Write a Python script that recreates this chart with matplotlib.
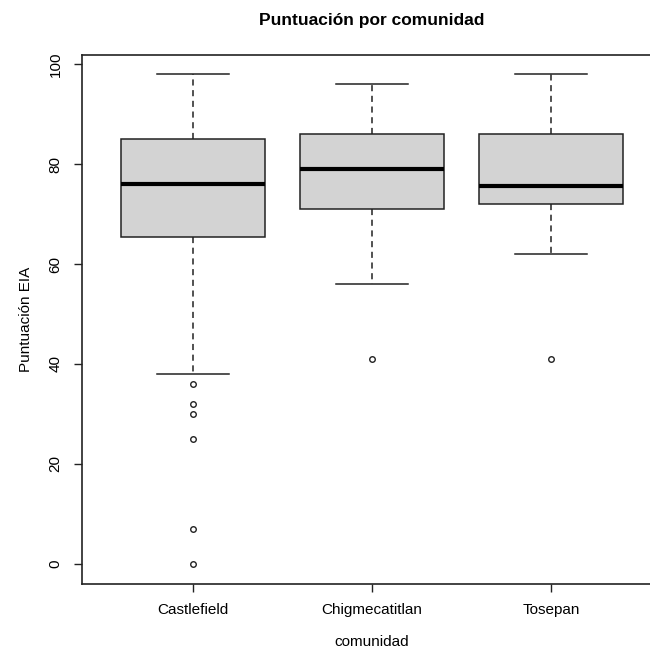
import matplotlib
matplotlib.use("Agg")
import matplotlib.pyplot as plt

categories = ["Castlefield", "Chigmecatitlan", "Tosepan"]
whisker_low = [38, 56, 62]
q1 = [65.5, 71, 72]
median = [76, 79, 75.6]
q3 = [85, 86, 86]
whisker_high = [98, 96, 98]
outliers = [[36, 32, 30, 25, 7, 0], [41], [41]]
yticks = [0, 20, 40, 60, 80, 100]

plt.rcParams['font.family'] = ['Liberation Sans', 'DejaVu Sans']

fig = plt.figure(figsize=(6.5, 6.49), dpi=100)
W, H = 650, 649
left, right, top, bottom = 82, 662, 54.5, 583.5
ax = fig.add_axes([left / W, 1 - bottom / H, (right - left) / W, (bottom - top) / H])

lc = "#222222"
stats = []
for i, c in enumerate(categories):
    stats.append(dict(label=c, whislo=whisker_low[i], q1=q1[i], med=median[i],
                      q3=q3[i], whishi=whisker_high[i], fliers=outliers[i]))

ax.bxp(stats, positions=[1, 2, 3], widths=0.8, patch_artist=True,
       boxprops=dict(facecolor="#D3D3D3", edgecolor=lc, linewidth=1.1),
       medianprops=dict(color="black", linewidth=3, solid_capstyle="butt"),
       whiskerprops=dict(color=lc, linestyle=(0, (4, 3)), linewidth=1.1),
       capprops=dict(color=lc, linewidth=1.1),
       capwidths=0.4,
       flierprops=dict(marker="o", markerfacecolor="none", markeredgecolor=lc,
                       markersize=4, markeredgewidth=1.0, linestyle="none"))

ax.set_xlim(0.38, 3.62)
ax.set_ylim(-3.92, 101.92)
ax.set_yticks(yticks)
ax.set_yticklabels([str(t) for t in yticks], rotation=90, va="center", fontsize=11)
ax.set_xticks([1, 2, 3])
ax.set_xticklabels(categories, fontsize=11)
ax.tick_params(axis="both", length=6, width=1, color=lc, pad=8)
ax.spines["right"].set_visible(False)
for s in ax.spines.values():
    s.set_linewidth(1.2)
    s.set_color(lc)

ax.set_ylabel("Puntuación EIA", fontsize=11, labelpad=11)
ax.set_xlabel("comunidad", fontsize=11, labelpad=13)
fig.text((left + right) / 2 / W, 1 - 20 / H, "Puntuación por comunidad",
         ha="center", va="center", fontsize=12.5, fontweight="bold")

fig.savefig("out.png", dpi=100)
